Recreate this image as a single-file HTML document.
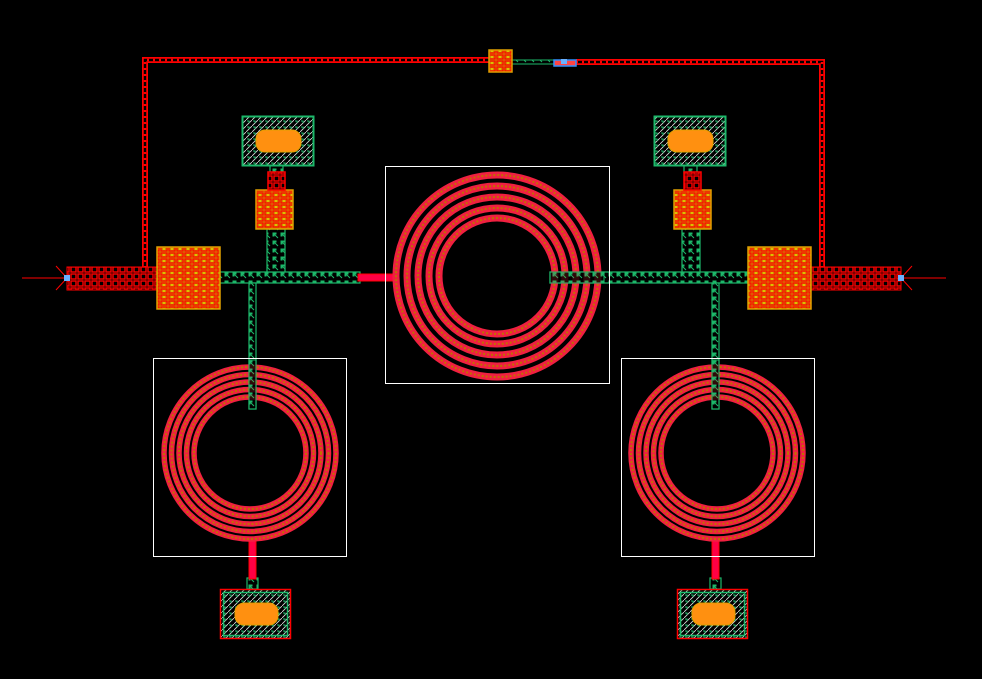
<!DOCTYPE html>
<html><head><style>html,body{margin:0;padding:0;background:#000}svg{display:block}</style></head>
<body>
<svg width="982" height="679" viewBox="0 0 982 679" xmlns="http://www.w3.org/2000/svg">
<defs>
<pattern id="gh" width="8" height="8" patternUnits="userSpaceOnUse"><rect width="8" height="8" fill="#000"/><path d="M1 1h3v1h-2v2h-1z M2 2l4 4" stroke="#1db86a" stroke-width="1" fill="none"/></pattern>
<pattern id="rh" width="7" height="7" patternUnits="userSpaceOnUse"><rect width="7" height="7" fill="#000"/><rect x="1" y="1" width="5" height="5" fill="none" stroke="#f00" stroke-width="1.4"/></pattern>
<pattern id="blk" width="8" height="6" patternUnits="userSpaceOnUse"><rect width="8" height="6" fill="#d08a00"/><rect x="1" y="1" width="6" height="4" fill="none" stroke="#f00" stroke-width="1.2"/><rect x="3" y="2" width="2" height="2" fill="#e0c000"/></pattern>
<pattern id="ph" width="6" height="6" patternUnits="userSpaceOnUse"><rect width="6" height="6" fill="#000"/><path d="M0 6L6 0" stroke="#ddd" stroke-width="0.8"/><path d="M1 1h2v2" stroke="#1db86a" stroke-width="1" fill="none"/></pattern>
</defs>

<g fill="none">
<path d="M145 268V60H489M576 62H822V268" stroke="#f00" stroke-width="6"/>
<path d="M145 268V60H489M576 62H822V268" stroke="#000" stroke-width="2.5"/>
<path d="M145 268V60H489M576 62H822V268" stroke="#f00" stroke-width="2.5" stroke-dasharray="2 4"/>
</g>
<rect x="512" y="60" width="43" height="4" fill="url(#gh)" stroke="#1db86a" stroke-width="1"/>
<rect x="489" y="50" width="23" height="22" fill="url(#blk)" stroke="#e0a000" stroke-width="1.5"/>
<rect x="554" y="60" width="22" height="6" fill="#f44" stroke="#3090ff" stroke-width="1.5"/>
<rect x="561" y="59" width="6" height="5" fill="#6ab0ff"/>

<line x1="22" y1="278" x2="67" y2="278" stroke="#f00" stroke-width="1"/>
<line x1="901" y1="278" x2="946" y2="278" stroke="#f00" stroke-width="1"/>
<path d="M56 266L67 278L56 290M912 266L901 278L912 290" stroke="#f00" stroke-width="1" fill="none"/>
<rect x="67" y="267" width="90" height="23" fill="url(#rh)" stroke="#f00" stroke-width="1"/>
<rect x="811" y="267" width="90" height="23" fill="url(#rh)" stroke="#f00" stroke-width="1"/>
<rect x="64" y="275" width="6" height="6" fill="#6ab0ff"/>
<rect x="898" y="275" width="6" height="6" fill="#6ab0ff"/>

<g fill="url(#gh)" stroke="#1db86a" stroke-width="1.2">
<rect x="220" y="272" width="140" height="11"/>
<rect x="550" y="272" width="198" height="11"/>
<rect x="267" y="229" width="18" height="43"/>
<rect x="682" y="229" width="18" height="43"/>
<rect x="249" y="283" width="7" height="126"/>
<rect x="712" y="283" width="7" height="126"/>
<rect x="270" y="165" width="13" height="8"/>
<rect x="684" y="165" width="13" height="8"/>
<rect x="247" y="578" width="11" height="11"/>
<rect x="710" y="578" width="11" height="11"/>
</g>
<rect x="358" y="274" width="39" height="7" fill="#f04" stroke="#f00"/>

<g stroke="#e0a000" stroke-width="1.5">
<rect x="157" y="247" width="63" height="62" fill="url(#blk)"/>
<rect x="748" y="247" width="63" height="62" fill="url(#blk)"/>
<rect x="256" y="190" width="37" height="39" fill="url(#blk)"/>
<rect x="674" y="190" width="37" height="39" fill="url(#blk)"/>
</g>
<rect x="268" y="172" width="17" height="18" fill="url(#rh)" stroke="#f00" stroke-width="1.5"/>
<rect x="684" y="172" width="17" height="18" fill="url(#rh)" stroke="#f00" stroke-width="1.5"/>
<rect x="249" y="540" width="7" height="39" fill="#f04" stroke="#f00"/>
<rect x="712" y="540" width="7" height="39" fill="#f04" stroke="#f00"/>

<g>
<rect x="242.5" y="116.5" width="71" height="49" fill="url(#ph)" stroke="#1db86a" stroke-width="2"/>
<rect x="654.5" y="116.5" width="71" height="49" fill="url(#ph)" stroke="#1db86a" stroke-width="2"/>
<rect x="220.5" y="589.5" width="70" height="49" fill="url(#ph)" stroke="#f00" stroke-width="1.5"/>
<rect x="223.5" y="592.5" width="64" height="43" fill="none" stroke="#1db86a" stroke-width="1.5"/>
<rect x="677.5" y="589.5" width="70" height="49" fill="url(#ph)" stroke="#f00" stroke-width="1.5"/>
<rect x="680.5" y="592.5" width="64" height="43" fill="none" stroke="#1db86a" stroke-width="1.5"/>
<g fill="#ff9010" stroke="#e0a000">
<rect x="256" y="130" width="45" height="22" rx="9"/>
<rect x="668" y="130" width="45" height="22" rx="9"/>
<rect x="235" y="603" width="43" height="22" rx="9"/>
<rect x="692" y="603" width="43" height="22" rx="9"/>
</g>
</g>

<g fill="none" stroke="#fff" stroke-width="1">
<rect x="385.5" y="166.5" width="224" height="217"/>
<rect x="153.5" y="358.5" width="193" height="198"/>
<rect x="621.5" y="358.5" width="193" height="198"/>
</g>

<g fill="none">
<g stroke="#f02040" stroke-width="7">
<circle cx="497" cy="276" r="101"/><circle cx="497" cy="276" r="90"/><circle cx="497" cy="276" r="79"/><circle cx="497" cy="276" r="68"/><circle cx="497" cy="276" r="58"/>
</g>
<g stroke="#f02040" stroke-width="5.5">
<circle cx="250" cy="453" r="86"/><circle cx="250" cy="453" r="78.5"/><circle cx="250" cy="453" r="71"/><circle cx="250" cy="453" r="63.5"/><circle cx="250" cy="453" r="56"/>
<circle cx="717" cy="453" r="86"/><circle cx="717" cy="453" r="78.5"/><circle cx="717" cy="453" r="71"/><circle cx="717" cy="453" r="63.5"/><circle cx="717" cy="453" r="56"/>
</g>
<g stroke="#c07000" stroke-width="2" stroke-dasharray="2 2">
<circle cx="497" cy="276" r="101"/><circle cx="497" cy="276" r="90"/><circle cx="497" cy="276" r="79"/><circle cx="497" cy="276" r="68"/><circle cx="497" cy="276" r="58"/>
<circle cx="250" cy="453" r="86"/><circle cx="250" cy="453" r="78.5"/><circle cx="250" cy="453" r="71"/><circle cx="250" cy="453" r="63.5"/><circle cx="250" cy="453" r="56"/>
<circle cx="717" cy="453" r="86"/><circle cx="717" cy="453" r="78.5"/><circle cx="717" cy="453" r="71"/><circle cx="717" cy="453" r="63.5"/><circle cx="717" cy="453" r="56"/>
</g>
</g>
<rect x="550" y="272" width="54" height="11" fill="url(#gh)" stroke="#1db86a" stroke-width="1.2" opacity="0.8"/>
<rect x="249" y="360" width="7" height="49" fill="url(#gh)" stroke="#1db86a" stroke-width="1.2" opacity="0.8"/>
<rect x="712" y="360" width="7" height="49" fill="url(#gh)" stroke="#1db86a" stroke-width="1.2" opacity="0.8"/>
</svg>
</body></html>
